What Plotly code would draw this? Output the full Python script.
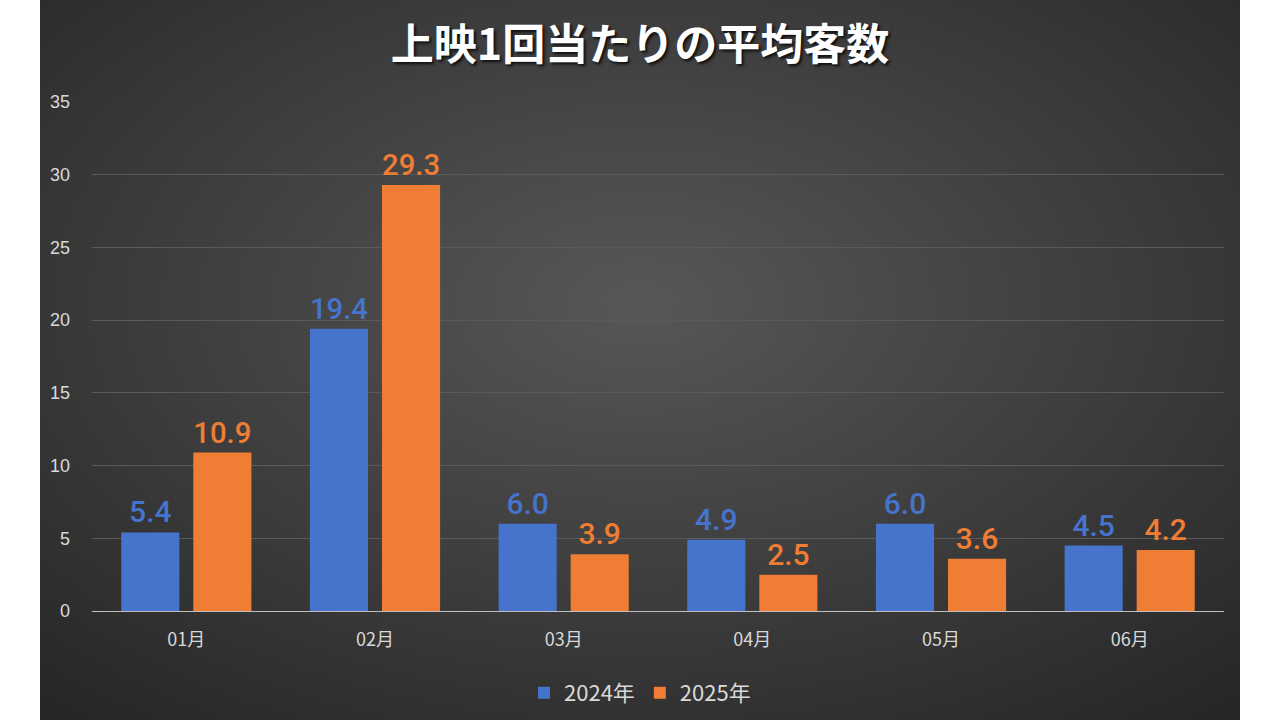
import base64
import plotly.graph_objects as go

months = ["01月", "02月", "03月", "04月", "05月", "06月"]
series_2024 = [5.4, 19.4, 6.0, 4.9, 6.0, 4.5]
series_2025 = [10.9, 29.3, 3.9, 2.5, 3.6, 4.2]
y_ticks = [0, 5, 10, 15, 20, 25, 30, 35]

BLUE = "#4674cc"
ORANGE = "#ef7d33"
TEXT = "#d9d9d9"
LABEL_FONT = "Roboto, sans-serif"

# dark radial background panel, passed in as an inline svg image
bg_svg = """<svg xmlns='http://www.w3.org/2000/svg' width='1200' height='720' viewBox='0 0 1200 720' preserveAspectRatio='none'>
<defs><radialGradient id='g' cx='50%' cy='42%' r='75%'>
<stop offset='0%' stop-color='#575757'/>
<stop offset='100%' stop-color='#262626'/>
</radialGradient></defs>
<rect width='1200' height='720' fill='url(#g)'/></svg>"""
bg_uri = "data:image/svg+xml;base64," + base64.b64encode(bg_svg.encode()).decode()

fig = go.Figure()
fig.add_trace(go.Bar(x=months, y=series_2024, name="2024年",
                     marker=dict(color=BLUE, line=dict(width=0)),
                     text=[f"{v:.1f}" for v in series_2024], textposition="outside",
                     textfont=dict(family=LABEL_FONT, size=30, color=BLUE, weight=500),
                     cliponaxis=False))
fig.add_trace(go.Bar(x=months, y=series_2025, name="2025年",
                     marker=dict(color=ORANGE, line=dict(width=0)),
                     text=[f"{v:.1f}" for v in series_2025], textposition="outside",
                     textfont=dict(family=LABEL_FONT, size=30, color=ORANGE, weight=500),
                     cliponaxis=False))

fig.update_layout(
    width=1280, height=720,
    paper_bgcolor="white",
    plot_bgcolor="rgba(0,0,0,0)",
    margin=dict(l=92, r=56, t=102, b=109, autoexpand=False),
    barmode="group", bargap=0.236, bargroupgap=0.194,
    font=dict(family="Noto Sans CJK JP, sans-serif", color=TEXT),
    title=dict(text="<b>上映1回当たりの平均客数</b>", x=0.5, xref="container", xanchor="center",
               y=0.9375, yref="container", yanchor="middle",
               font=dict(family="Noto Sans CJK JP, sans-serif", size=43, color="white",
                         shadow="2px 2px 3px rgba(0,0,0,0.8)")),
    legend=dict(orientation="h", x=0.5, xref="container", xanchor="center",
                y=1 - 693 / 720, yref="container", yanchor="middle",
                font=dict(size=22, color=TEXT), bgcolor="rgba(0,0,0,0)",
                itemwidth=30, traceorder="normal"),
    images=[dict(source=bg_uri, xref="paper", yref="paper",
                 x=-52 / 1132, y=611 / 509, sizex=1200 / 1132, sizey=720 / 509,
                 xanchor="left", yanchor="top", sizing="stretch", layer="below")],
)
fig.update_yaxes(range=[0, 35], tickvals=y_ticks, showgrid=True, gridcolor="#5a5a5a", gridwidth=1,
                 zeroline=False, showline=False, ticks="", ticklabelstandoff=21, automargin=False,
                 tickfont=dict(family="Liberation Sans, Arial, sans-serif", size=18, color=TEXT))
fig.update_xaxes(showline=True, linecolor="#bfbfbf", linewidth=1, ticks="", ticklabelstandoff=12,
                 automargin=False,
                 tickfont=dict(family="Noto Sans CJK JP, sans-serif", size=18, color=TEXT))

# page keeps a default body margin; pin it to 1280x720
fix_page = ("document.documentElement.style.overflow='hidden';"
            "document.body.style.margin='0';"
            "document.body.style.overflow='hidden';")
fig.write_html("out.html", config={"displayModeBar": False}, post_script=fix_page)
